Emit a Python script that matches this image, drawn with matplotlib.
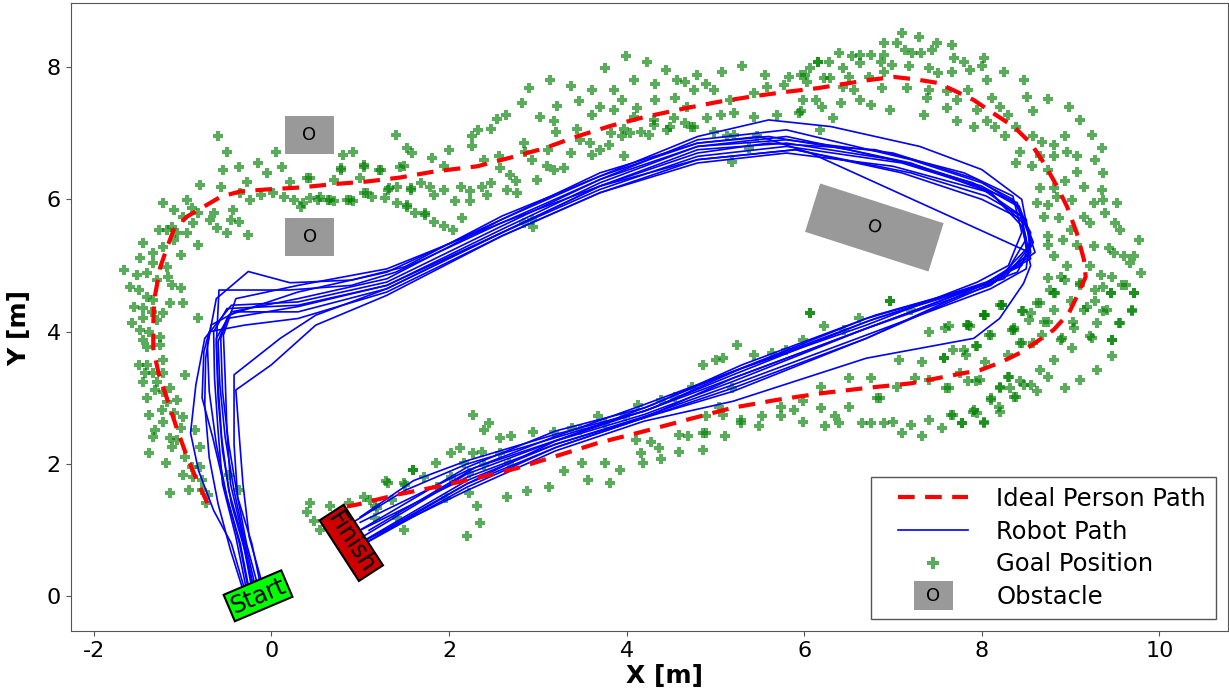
import numpy as np
import matplotlib
matplotlib.use("Agg")
import matplotlib.pyplot as plt
from matplotlib.patches import Polygon, Rectangle, Patch
from matplotlib.lines import Line2D
from matplotlib.text import Text
from matplotlib.legend_handler import HandlerBase

plt.rcParams["axes.unicode_minus"] = False

# ideal path of the person (open loop, from left side clockwise back to the finish)
ideal_path = np.array([
    (-0.72, 1.41), (-0.84, 1.76), (-0.95, 2.11), (-1.06, 2.52), (-1.17, 2.97), (-1.27, 3.37),
    (-1.33, 3.75), (-1.33, 4.10), (-1.32, 4.48), (-1.25, 4.98), (-1.17, 5.29), (-1.10, 5.54),
    (-0.95, 5.74), (-0.76, 5.89), (-0.57, 6.04), (-0.35, 6.12), (-0.05, 6.15), (0.33, 6.18),
    (0.70, 6.23), (1.08, 6.27), (1.45, 6.33), (1.83, 6.42), (2.32, 6.50), (2.69, 6.63),
    (3.07, 6.77), (3.44, 6.95), (3.82, 7.11), (4.19, 7.24), (4.64, 7.37), (5.02, 7.47),
    (5.39, 7.55), (5.77, 7.62), (6.15, 7.68), (6.71, 7.80), (7.01, 7.85), (7.27, 7.81),
    (7.50, 7.76), (7.68, 7.65), (7.91, 7.50), (8.13, 7.30), (8.36, 7.10), (8.55, 6.85),
    (8.70, 6.55), (8.85, 6.19), (8.96, 5.89), (9.07, 5.49), (9.15, 5.09), (9.17, 4.83),
    (9.07, 4.53), (8.98, 4.28), (8.81, 4.03), (8.62, 3.85), (8.43, 3.68), (8.20, 3.53),
    (7.98, 3.42), (7.70, 3.35), (7.20, 3.22), (6.70, 3.15), (6.19, 3.07), (5.69, 2.97),
    (5.19, 2.85), (4.68, 2.67), (4.18, 2.49), (3.68, 2.32), (3.18, 2.11), (2.77, 1.94),
    (2.32, 1.79), (1.87, 1.66), (1.42, 1.54), (0.97, 1.39), (0.85, 1.36),
])

# robot runs
robot_paths = [
    [(-0.25, 0.10), (-0.35, 0.8), (-0.50, 1.5), (-0.62, 2.3), (-0.70, 3.1), (-0.72, 3.8), (-0.62, 4.5),
     (-0.26, 4.91), (0.21, 4.74), (0.9, 4.78), (1.5, 4.98), (2.6, 5.75), (3.7, 6.35), (4.8, 6.85),
     (5.6, 6.95), (6.5, 6.75), (7.3, 6.5), (8.0, 6.2), (8.4, 5.9), (8.55, 5.4), (8.45, 5.0),
     (8.05, 4.75), (6.7, 4.15), (5.2, 3.35), (4.2, 2.8), (3.2, 2.4), (2.2, 2.0), (1.5, 1.6), (0.93, 1.13)],
    [(-0.20, 0.12), (-0.30, 0.7), (-0.45, 1.4), (-0.55, 2.2), (-0.60, 3.0), (-0.62, 3.8), (-0.59, 4.63),
     (0.2, 4.63), (0.9, 4.7), (1.4, 4.9), (2.6, 5.65), (3.7, 6.2), (4.8, 6.75), (5.8, 6.85), (7.0, 6.6),
     (7.9, 6.25), (8.45, 5.75), (8.5, 5.25), (8.15, 4.75), (6.8, 4.2), (5.3, 3.45), (4.3, 2.85),
     (3.3, 2.4), (2.3, 1.95), (1.1, 1.0)],
    [(-0.15, 0.15), (-0.28, 0.8), (-0.38, 1.5), (-0.42, 2.3), (-0.42, 3.35), (0.1, 3.9), (0.5, 4.25),
     (1.3, 4.65), (2.6, 5.5), (3.7, 6.2), (4.8, 6.6), (5.9, 6.75), (7.1, 6.4), (8.0, 6.0), (8.45, 5.7),
     (8.55, 5.1), (8.0, 4.7), (6.7, 3.9), (5.2, 3.1), (4.2, 2.7), (3.2, 2.3), (2.2, 1.75), (1.05, 0.85)],
    [(-0.10, 0.18), (-0.25, 0.9), (-0.32, 1.7), (-0.36, 2.4), (-0.40, 3.12), (0.0, 3.5), (0.5, 4.1),
     (1.3, 4.55), (2.6, 5.45), (3.7, 6.1), (4.8, 6.55), (5.8, 6.7), (7.0, 6.5), (8.1, 6.1), (8.5, 5.6),
     (8.6, 5.2), (8.2, 4.8), (6.9, 4.15), (5.2, 3.3), (4.2, 2.7), (3.2, 2.25), (2.2, 1.65), (1.08, 0.82)],
    [(-0.30, 0.10), (-0.45, 0.8), (-0.65, 1.3), (-0.82, 1.9), (-0.91, 2.47), (-0.85, 3.2), (-0.75, 3.9),
     (-0.45, 4.4), (0.3, 4.45), (1.3, 4.75), (2.6, 5.6), (3.7, 6.3), (4.8, 6.9), (5.8, 7.05), (7.2, 6.6),
     (8.0, 6.25), (8.35, 6.0), (8.55, 5.5), (8.5, 4.95), (8.1, 4.65), (6.7, 3.95), (5.2, 3.2),
     (4.2, 2.72), (3.2, 2.3), (2.2, 1.8), (1.0, 1.0)],
    [(-0.28, 0.10), (-0.40, 0.9), (-0.55, 1.7), (-0.60, 2.5), (-0.64, 3.3), (-0.65, 4.0), (-0.50, 4.35),
     (0.3, 4.4), (1.3, 4.7), (2.6, 5.55), (3.7, 6.25), (4.8, 6.8), (5.8, 6.95), (7.2, 6.55), (8.1, 6.1),
     (8.45, 5.6), (8.55, 5.0), (8.47, 4.73), (8.2, 4.2), (7.91, 3.9), (6.7, 3.6), (5.2, 2.95),
     (4.2, 2.65), (3.2, 2.2), (2.2, 1.6), (1.1, 0.88)],
    [(-0.22, 0.12), (-0.33, 0.9), (-0.48, 1.6), (-0.56, 2.4), (-0.60, 3.2), (-0.62, 3.9), (-0.45, 4.3),
     (0.3, 4.5), (1.3, 4.8), (2.6, 5.7), (3.7, 6.4), (4.8, 6.85), (5.5, 6.95), (6.07, 6.7), (8.55, 5.19),
     (8.1, 4.7), (6.7, 4.05), (5.2, 3.25), (4.2, 2.75), (3.2, 2.35), (2.2, 1.85), (1.05, 0.92)],
    [(-0.18, 0.14), (-0.30, 0.85), (-0.42, 1.6), (-0.52, 2.4), (-0.58, 3.2), (-0.60, 3.85), (-0.50, 4.2),
     (0.3, 4.38), (1.3, 4.7), (2.6, 5.5), (3.7, 6.15), (4.8, 6.65), (5.8, 6.8), (7.1, 6.55), (7.95, 6.2),
     (8.4, 5.95), (8.5, 5.4), (8.3, 4.95), (8.0, 4.7), (6.7, 4.05), (5.2, 3.3), (4.2, 2.8), (3.2, 2.45),
     (2.2, 2.05), (1.6, 1.75), (1.0, 1.2)],
    [(-0.32, 0.10), (-0.46, 0.7), (-0.60, 1.4), (-0.70, 2.1), (-0.75, 2.9), (-0.74, 3.6), (-0.68, 4.1),
     (-0.40, 4.3), (0.3, 4.3), (1.3, 4.65), (2.6, 5.5), (3.7, 6.2), (4.8, 6.7), (5.6, 6.85), (6.8, 6.75),
     (7.8, 6.4), (8.35, 6.05), (8.45, 5.5), (8.3, 5.0), (7.95, 4.75), (6.7, 4.1), (5.2, 3.4),
     (4.2, 2.85), (3.2, 2.5), (2.2, 1.95), (1.02, 1.02)],
    [(-0.12, 0.16), (-0.22, 0.8), (-0.38, 1.5), (-0.48, 2.3), (-0.55, 3.1), (-0.57, 3.9), (-0.48, 4.25),
     (0.3, 4.6), (1.3, 4.9), (2.6, 5.7), (3.7, 6.35), (4.8, 6.95), (5.6, 7.2), (6.3, 7.1), (7.3, 6.8),
     (8.0, 6.45), (8.45, 6.0), (8.55, 5.3), (8.25, 4.8), (6.8, 4.25), (5.3, 3.5), (4.3, 2.9),
     (3.2, 2.35), (2.2, 1.7), (1.08, 0.86)],
    [(-0.26, 0.11), (-0.36, 0.8), (-0.52, 1.6), (-0.66, 2.4), (-0.78, 3.0), (-0.76, 3.7), (-0.70, 4.0),
     (-0.30, 4.1), (0.3, 4.2), (1.3, 4.6), (2.6, 5.45), (3.7, 6.1), (4.8, 6.6), (5.9, 6.75), (7.2, 6.4),
     (8.05, 6.05), (8.5, 5.7), (8.55, 5.2), (8.1, 4.72), (6.7, 3.9), (5.2, 3.15), (4.2, 2.7),
     (3.2, 2.25), (2.2, 1.7), (1.1, 0.84)],
    [(-0.20, 0.13), (-0.32, 0.9), (-0.46, 1.7), (-0.50, 2.5), (-0.52, 3.3), (-0.54, 3.95), (-0.40, 4.5),
     (0.3, 4.7), (1.3, 4.95), (2.6, 5.65), (3.7, 6.3), (4.8, 6.8), (5.8, 6.9), (7.0, 6.7), (7.95, 6.3),
     (8.42, 5.9), (8.58, 5.35), (8.4, 4.9), (8.0, 4.7), (6.7, 4.2), (5.2, 3.4), (4.2, 2.9), (3.2, 2.42),
     (2.2, 1.9), (1.0, 1.12)],
]

goal_left = [
    (-0.60, 6.96), (-0.50, 6.72), (0.05, 6.72), (-0.15, 6.55), (-0.37, 6.49), (-0.54, 6.44), (0.12, 6.49),
    (-0.05, 6.40), (-0.80, 6.22), (-0.57, 6.19), (-0.27, 6.26), (0.21, 6.26), (0.44, 6.32), (0.81, 6.67),
    (0.92, 6.72), (0.78, 6.44), (1.04, 6.49), (1.40, 6.97), (1.53, 6.77), (1.45, 6.49), (1.23, 6.44),
    (1.42, 6.19), (1.57, 6.17), (1.31, 6.14), (1.08, 6.09), (0.89, 5.99), (0.70, 5.97), (0.64, 5.99),
    (0.52, 5.99), (0.36, 5.94), (0.25, 5.99), (0.14, 6.04), (0.02, 6.09), (-0.12, 6.06), (-0.24, 5.99),
    (-0.35, 6.09), (-0.43, 5.84), (-0.37, 5.66), (-0.46, 5.69), (-0.50, 5.49), (-0.26, 5.46), (-0.61, 5.57),
    (-0.65, 5.79), (-0.69, 5.69), (-0.83, 5.79), (-0.95, 5.99), (-0.89, 5.87), (-1.00, 5.74), (-1.10, 5.84),
    (-1.22, 5.94), (-0.88, 5.64), (-0.95, 5.49), (-0.83, 5.31), (-1.06, 5.49), (-1.12, 5.58), (-1.17, 5.54),
    (-1.27, 5.54), (-1.10, 5.39), (-1.02, 5.16), (-1.22, 5.28), (-1.33, 5.19), (-1.44, 5.34), (-1.48, 5.12),
    (-1.33, 5.04), (-1.17, 4.98), (-1.16, 4.83), (-1.12, 4.71), (-1.02, 4.66), (-1.29, 4.78), (-1.40, 4.88),
    (-1.51, 4.85), (-1.66, 4.93), (-1.59, 4.68), (-1.49, 4.63), (-1.40, 4.53), (-1.33, 4.48), (-1.14, 4.43),
    (-0.99, 4.43), (-0.83, 4.20), (-1.22, 4.28), (-1.34, 4.30), (-1.44, 4.36), (-1.55, 4.38), (-1.44, 4.20),
    (-1.29, 4.18), (-1.57, 4.13), (-1.48, 4.03), (-1.38, 4.00), (-1.25, 3.92), (-1.44, 3.88),
    (-1.40, 3.77), (-1.25, 3.80), (-1.49, 3.50), (-1.40, 3.50), (-1.22, 3.58), (-1.42, 3.37), (-1.33, 3.37),
    (-1.22, 3.37), (-1.44, 3.24), (-1.29, 3.24), (-1.14, 3.15), (-1.31, 3.12), (-1.22, 3.09), (-0.97, 3.35),
    (-1.40, 3.00), (-1.17, 2.94), (-1.06, 2.97), (-1.23, 2.82), (-1.10, 2.77), (-1.38, 2.74), (-1.00, 2.71),
    (-1.22, 2.64), (-1.02, 2.55), (-1.31, 2.52), (-0.86, 2.52), (-1.33, 2.41), (-1.14, 2.39), (-1.06, 2.36),
    (-1.12, 2.26), (-1.38, 2.17), (-0.97, 2.10), (-0.80, 2.26), (-1.19, 2.02), (-0.89, 1.96), (-0.80, 1.96),
    (-1.00, 1.84), (-0.88, 1.81), (-0.78, 1.76), (-0.93, 1.61), (-1.14, 1.56), (-0.78, 1.61), (-0.74, 1.41),
    (-0.48, 1.84), (-0.37, 1.61), (-0.71, 1.54),
    (0.44, 1.41), (0.40, 1.28), (0.48, 1.14), (0.55, 1.00), (0.66, 1.37), (0.87, 1.41), (1.04, 1.51),
    (1.11, 1.46), (1.31, 1.72), (1.19, 1.34), (1.36, 1.46), (1.51, 1.69), (1.60, 1.91), (1.49, 1.01),
    (1.17, 1.19),
]

goal_top = [
    (3.99, 8.17), (4.23, 8.08), (3.76, 7.98), (4.44, 7.95), (3.14, 7.81), (2.90, 7.68), (3.37, 7.71),
    (3.61, 7.65), (3.86, 7.65), (4.08, 7.80), (4.32, 7.75), (4.57, 7.80), (4.66, 7.78), (4.79, 7.88),
    (4.89, 7.75), (5.08, 7.93), (5.30, 8.01), (5.56, 7.88), (5.83, 7.85), (6.01, 7.88), (6.15, 8.08),
    (2.82, 7.45), (3.22, 7.41), (3.46, 7.48), (3.70, 7.40), (3.95, 7.50), (4.12, 7.38), (4.32, 7.50),
    (4.55, 7.53), (4.76, 7.65), (4.98, 7.65), (5.17, 7.50), (5.43, 7.60), (5.58, 7.70), (5.77, 7.73),
    (5.99, 7.50), (3.03, 7.25), (2.64, 7.28), (2.54, 7.21), (2.47, 7.07), (2.33, 7.05), (2.26, 6.95),
    (3.18, 7.18), (3.61, 7.28), (3.86, 7.35), (4.08, 7.25), (4.31, 7.20), (4.53, 7.23), (4.72, 7.10),
    (4.91, 7.23), (5.06, 7.28), (5.21, 7.30), (5.43, 7.25), (5.69, 7.28), (5.94, 7.30), (6.13, 7.50),
    (2.00, 6.75), (1.81, 6.62), (1.58, 6.70), (1.49, 6.50), (1.68, 6.24), (1.57, 6.14), (1.83, 6.07),
    (1.94, 6.14), (2.07, 5.97), (2.13, 6.19), (2.24, 6.12), (2.37, 6.19), (2.47, 6.24), (2.43, 6.07),
    (2.24, 5.97), (1.53, 5.92), (1.62, 5.79), (1.73, 5.79), (1.83, 5.66), (1.94, 5.59), (2.15, 5.72),
    (2.04, 5.54), (2.26, 6.80), (2.39, 6.60), (2.56, 6.65), (2.58, 6.47), (2.69, 6.37), (2.75, 6.27),
    (2.65, 6.14), (2.77, 6.09), (2.84, 6.85), (2.86, 6.72), (2.94, 6.60), (2.99, 6.29), (2.94, 5.69),
    (2.84, 5.64), (2.95, 5.58), (3.10, 6.50), (3.18, 6.44), (3.29, 6.47), (3.12, 6.75), (3.20, 7.02),
    (3.37, 6.70), (3.48, 6.90), (3.44, 7.07), (3.59, 6.85), (3.61, 6.67), (3.70, 6.75), (3.80, 6.82),
    (3.82, 7.00), (3.95, 6.95), (4.04, 7.00), (3.97, 7.07), (4.16, 7.02), (4.25, 6.97), (4.31, 7.13),
    (4.46, 7.05), (4.49, 7.10), (4.66, 7.15), (4.76, 7.10), (4.98, 7.02), (5.13, 6.95), (5.21, 6.97),
    (5.38, 6.77), (5.19, 6.57), (3.97, 6.65), (4.68, 7.40), (5.47, 6.95), (5.96, 7.33), (1.94, 6.50),
    (0.78, 6.47), (1.04, 6.52), (1.21, 6.44), (0.40, 6.32), (0.70, 6.29), (1.00, 6.32), (1.13, 6.04),
    (1.28, 6.02), (1.42, 5.94), (1.53, 5.89), (1.73, 5.76), (1.32, 6.17), (1.79, 6.19), (0.55, 6.04),
    (0.66, 5.99), (0.85, 5.99), (0.92, 5.97), (1.04, 6.09), (0.33, 5.89), (0.44, 6.02),
]

goal_right = [
    (7.10, 8.51), (7.29, 8.45), (7.50, 8.37), (7.67, 8.33), (6.90, 8.36), (7.05, 8.36), (7.14, 8.26),
    (7.21, 8.21), (7.31, 8.21), (7.44, 8.26), (6.90, 8.18), (6.75, 8.18), (6.63, 8.18), (6.54, 8.16),
    (6.39, 8.21), (6.28, 8.08), (6.16, 8.08), (6.07, 7.98), (5.96, 7.88), (6.44, 7.98), (6.63, 8.06),
    (6.86, 8.08), (6.99, 8.03), (7.18, 8.01), (7.40, 7.98), (7.69, 8.13), (7.80, 8.08), (8.02, 8.13),
    (7.87, 7.96), (8.00, 8.01), (8.25, 7.93), (7.67, 7.93), (7.51, 7.91), (6.90, 7.93), (6.73, 7.85),
    (6.50, 7.85), (6.29, 7.83), (6.22, 7.83), (6.03, 7.78), (6.44, 7.70), (6.56, 7.65), (6.88, 7.68),
    (7.16, 7.68), (7.40, 7.65), (7.38, 7.53), (7.61, 7.63), (7.85, 7.65), (7.72, 7.50), (8.06, 7.80),
    (8.11, 7.53), (7.95, 7.35), (8.21, 7.40), (8.47, 7.80), (8.51, 7.55), (8.75, 7.51), (8.98, 7.40),
    (8.58, 7.33), (8.29, 7.28), (8.06, 7.18), (7.91, 7.10), (7.72, 7.18), (7.61, 7.38), (7.35, 7.28),
    (6.97, 7.35), (6.75, 7.43), (6.63, 7.50), (6.41, 7.45), (6.20, 7.40), (6.33, 7.23), (6.18, 7.05),
    (8.15, 7.10), (8.38, 7.10), (8.26, 6.95), (8.43, 6.72), (8.58, 6.95), (8.68, 6.87), (8.81, 6.82),
    (8.94, 6.95), (9.11, 7.20), (9.24, 6.97), (9.35, 6.77), (9.28, 6.60), (8.96, 6.72), (9.07, 6.65),
    (8.81, 6.65), (8.66, 6.65), (8.38, 6.55), (8.57, 6.50), (8.74, 6.45), (9.07, 6.42), (9.37, 6.40),
    (8.66, 6.17), (8.81, 6.17), (8.94, 6.27), (9.15, 6.19), (9.35, 6.14), (8.62, 5.94), (8.75, 5.92),
    (8.85, 6.04), (9.02, 5.99), (9.26, 5.94), (9.37, 5.99), (9.52, 5.94), (8.70, 5.74), (8.87, 5.72),
    (9.15, 5.74), (9.39, 5.79), (9.22, 5.64), (9.50, 5.64), (9.00, 5.54), (8.74, 5.44), (8.75, 5.31),
    (8.92, 5.39), (9.07, 5.31), (9.26, 5.29), (9.43, 5.26), (9.56, 5.54), (9.77, 5.39), (9.60, 5.14),
    (9.49, 5.19), (9.71, 5.14), (9.79, 4.89), (9.67, 5.04), (8.81, 5.14), (8.96, 4.99), (9.22, 4.99),
    (9.34, 4.86), (9.47, 4.83), (8.75, 4.81), (8.89, 4.83), (9.11, 4.73), (9.28, 4.63), (9.45, 4.58),
    (9.58, 4.71), (9.71, 4.58), (8.81, 4.58), (8.66, 4.43), (9.00, 4.46), (9.19, 4.38), (9.37, 4.31),
    (9.54, 4.13), (9.69, 4.31), (9.47, 3.88), (9.22, 3.93), (9.04, 4.05), (8.89, 3.88), (8.74, 4.15),
    (8.55, 4.28), (8.58, 3.83), (8.36, 4.03), (8.43, 3.83), (8.21, 4.41), (8.02, 4.26), (7.85, 4.10),
    (6.97, 4.46), (6.07, 4.28),
    (7.57, 3.60), (7.68, 3.73), (7.82, 3.65), (7.93, 3.78), (8.04, 3.55), (8.10, 3.95), (8.29, 3.65),
    (8.34, 4.03), (8.45, 3.83), (8.45, 4.31), (8.53, 4.18), (8.23, 4.41), (8.04, 4.26), (7.87, 4.08),
    (7.59, 4.05), (8.62, 4.43), (8.70, 4.15), (8.68, 3.95), (8.81, 4.33), (8.83, 4.58), (8.77, 4.63),
    (8.94, 4.78), (9.03, 4.15), (9.02, 3.75), (8.90, 3.90), (9.11, 4.71), (9.15, 4.33), (9.24, 3.90),
    (9.28, 4.46), (9.30, 4.13), (9.41, 4.33), (9.47, 3.88), (9.47, 3.63), (9.30, 3.42), (9.56, 4.13),
    (9.69, 4.33), (9.71, 4.58), (9.62, 4.71), (9.45, 4.58), (9.37, 4.68), (8.81, 3.58), (8.66, 3.42),
    (8.74, 3.32), (8.55, 3.20), (8.43, 3.25), (8.62, 3.10), (8.94, 3.15), (9.11, 3.27), (8.30, 3.32),
    (8.21, 3.17), (8.38, 3.02), (8.32, 3.15), (8.10, 3.00), (8.19, 2.87), (7.98, 3.27), (7.85, 3.25),
    (7.63, 3.15), (7.91, 2.82), (7.95, 2.77), (7.68, 2.74), (7.78, 2.62), (8.02, 2.64),
]

goal_bottom = [
    (2.27, 2.74), (2.45, 2.62), (2.40, 2.52), (2.70, 2.42), (2.57, 2.39), (2.95, 2.49), (2.02, 2.17),
    (2.12, 2.24), (2.27, 2.17), (2.37, 2.19), (1.85, 2.02), (1.59, 1.91), (1.29, 1.74), (1.49, 1.71),
    (1.72, 1.81), (1.87, 1.66), (2.02, 1.81), (2.17, 2.02), (2.23, 1.86), (2.40, 1.99), (2.68, 2.02),
    (2.57, 2.17), (1.97, 1.49), (2.32, 1.36), (2.22, 1.56), (2.35, 1.11), (2.20, 0.91), (1.42, 1.18),
    (1.17, 1.36), (2.88, 1.59), (2.65, 1.51), (3.13, 1.66), (3.30, 1.89), (3.56, 1.76), (3.81, 1.71),
    (3.50, 2.02), (3.76, 2.02), (3.93, 1.91), (4.18, 2.02), (4.39, 2.07), (4.16, 2.17), (4.36, 2.24),
    (4.59, 2.19), (4.86, 2.22), (4.11, 2.37), (4.28, 2.34), (4.59, 2.44), (4.69, 2.42), (4.86, 2.47),
    (5.11, 2.42), (5.29, 2.62), (5.49, 2.57), (5.74, 2.72), (5.99, 2.64), (6.24, 2.57), (6.39, 2.62),
    (6.65, 2.62), (6.75, 2.62), (6.90, 2.62), (7.00, 2.64), (7.10, 2.47), (7.20, 2.59), (7.33, 2.42),
    (7.40, 2.67), (7.55, 2.54), (7.65, 2.74), (7.78, 2.62), (7.90, 2.79), (8.03, 2.62), (8.20, 2.79),
    (8.10, 2.97), (8.36, 3.02), (8.48, 3.20), (8.31, 3.32), (8.20, 3.15), (7.93, 3.25), (7.75, 3.37),
    (7.60, 3.15), (7.40, 3.27), (7.25, 3.30), (7.05, 3.17), (6.82, 3.00), (6.50, 2.87), (6.35, 2.72),
    (6.19, 2.85), (5.99, 2.95), (5.89, 2.82), (5.74, 2.87), (5.52, 2.72), (5.29, 2.67), (5.09, 2.74),
    (4.89, 2.47), (4.89, 2.72), (5.04, 2.87), (6.19, 3.17), (6.50, 3.30), (6.75, 3.30), (6.85, 3.00),
    (7.07, 3.58), (7.33, 3.55), (7.58, 3.60), (7.80, 3.73), (7.95, 3.78), (8.08, 3.95), (8.36, 4.05),
    (8.23, 4.41), (8.46, 4.31), (8.03, 4.26), (7.83, 4.10), (7.63, 4.08), (7.40, 4.00), (6.97, 4.46),
    (7.20, 4.33), (6.07, 4.28), (6.22, 4.08), (6.45, 4.03), (6.62, 4.21), (5.99, 3.88), (5.79, 3.73),
    (5.24, 3.80), (5.44, 3.65), (5.64, 3.68), (4.86, 3.50), (5.01, 3.58), (5.09, 3.60), (4.74, 3.17),
    (5.19, 3.15), (4.54, 3.02), (4.39, 2.97), (4.13, 2.90), (3.98, 2.72), (3.68, 2.72), (3.48, 2.52),
    (3.38, 2.54), (3.18, 2.49), (3.76, 2.62),
]

# obstacles (corner points)
obstacles = [
    [(0.15, 6.69), (0.70, 6.69), (0.70, 7.26), (0.15, 7.26)],
    [(0.155, 5.14), (0.706, 5.14), (0.706, 5.72), (0.155, 5.72)],
    [(6.18, 6.24), (7.57, 5.64), (7.40, 4.91), (6.01, 5.51)],
]
obstacle_angle = [0, 0, -18]

start_pos = (-0.15, 0.01)
finish_pos = (0.90, 0.81)

obs_color = "#999999"


class HandlerInset(HandlerBase):
    # legend handle drawn only on the right part of the handle box
    def create_artists(self, legend, orig_handle, xdescent, ydescent, width, height, fontsize, trans):
        x0 = -xdescent + 0.2 * width
        x1 = -xdescent + width
        y = -ydescent + height / 2
        if orig_handle.get_linestyle() in ("None", "none", ""):
            art = Line2D([(x0 + x1) / 2], [y])
        else:
            art = Line2D([x0, x1], [y, y])
        self.update_prop(art, orig_handle, legend)
        art.set_transform(trans)
        return [art]


class HandlerObstacle(HandlerBase):
    def create_artists(self, legend, orig_handle, xdescent, ydescent, width, height, fontsize, trans):
        xc = -xdescent + 0.6 * width
        yc = -ydescent + height / 2
        w = 0.45 * width
        h = 1.65 * height
        rect = Rectangle((xc - w / 2, yc - h / 2), w, h, facecolor=obs_color, edgecolor="none",
                         transform=trans)
        txt = Text(xc, yc, "O", ha="center", va="center", fontsize=13, transform=trans)
        return [rect, txt]


fig = plt.figure(figsize=(12.29, 6.91), dpi=100)
ax = fig.add_axes([0.0575, 0.087, 0.9415, 0.908])

goals = np.array(goal_left + goal_top + goal_right + goal_bottom)
ax.scatter(goals[:, 0], goals[:, 1], marker="P", s=46, color="green", alpha=0.65,
           linewidths=0, zorder=1)

for path in robot_paths:
    p = np.array(path)
    ax.plot(p[:, 0], p[:, 1], color="blue", lw=1.2, zorder=2)

ax.plot(ideal_path[:, 0], ideal_path[:, 1], color="red", lw=3, dashes=(4, 2.5), zorder=3)

for corners, ang in zip(obstacles, obstacle_angle):
    c = np.array(corners)
    ax.add_patch(Polygon(c, closed=True, facecolor=obs_color, edgecolor="none", zorder=4))
    cx, cy = c.mean(axis=0)
    ax.text(cx, cy, "O", ha="center", va="center", fontsize=13, rotation=ang,
            rotation_mode="anchor", zorder=5)

ax.text(start_pos[0], start_pos[1], "Start", fontsize=17, rotation=23, rotation_mode="anchor",
        ha="center", va="center", zorder=6,
        bbox=dict(boxstyle="square,pad=0.1", facecolor="lime", edgecolor="black", lw=1.5))
ax.text(finish_pos[0], finish_pos[1], "Finish", fontsize=17, rotation=-57, rotation_mode="anchor",
        ha="center", va="center", zorder=6,
        bbox=dict(boxstyle="square,pad=0.1", facecolor="#cc0000", edgecolor="black", lw=1.5))

ax.set_xlim(-2.26, 10.77)
ax.set_ylim(-0.52, 8.96)
ax.set_xticks([-2, 0, 2, 4, 6, 8, 10])
ax.set_yticks([0, 2, 4, 6, 8])
ax.tick_params(labelsize=16, color="#555555")
for s in ax.spines.values():
    s.set_edgecolor("#555555")
ax.set_xlabel("X [m]", fontsize=18, fontweight="bold")
ax.set_ylabel("Y [m]", fontsize=18, fontweight="bold")
ax.xaxis.set_label_coords(0.513, -0.052)
ax.yaxis.set_label_coords(-0.034, 0.483)

h_ideal = Line2D([], [], color="red", lw=3, dashes=(4, 2.5), label="Ideal Person Path")
h_robot = Line2D([], [], color="blue", lw=1.2, label="Robot Path")
h_goal = Line2D([], [], marker="P", ls="none", ms=8.5, color="green", alpha=0.65, mew=0,
                label="Goal Position")
h_obs = Patch(facecolor=obs_color, label="Obstacle")
leg = ax.legend(handles=[h_ideal, h_robot, h_goal, h_obs], loc="lower right", fontsize=17.5,
                handlelength=3.6, handletextpad=1.15, labelspacing=0.36, borderaxespad=0.5,
                fancybox=False, framealpha=1, edgecolor="#555555",
                handler_map={h_ideal: HandlerInset(), h_robot: HandlerInset(),
                             h_goal: HandlerInset(), h_obs: HandlerObstacle()})

fig.savefig("out.png", dpi=100)
